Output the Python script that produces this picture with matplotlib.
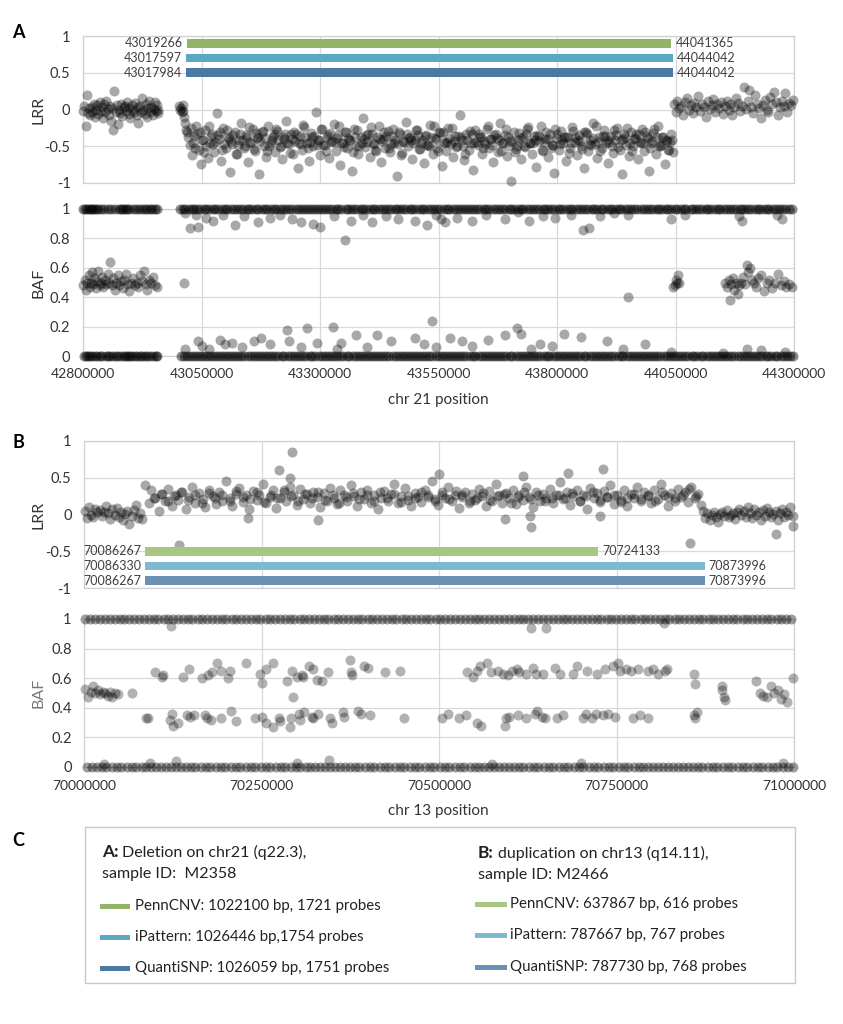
import numpy as np
import matplotlib
matplotlib.use('Agg')
import matplotlib.pyplot as plt
from matplotlib.patches import Rectangle

# ---------------- DATA (positions in kb) ----------------
# Panel A : chr21, LRR
lrr_a_seg1_kb = [42801,42803,42806,42808,42811,42813,42815,42818,42820,42823,
                 42825,42828,42830,42832,42835,42837,42840,42842,42845,42847,
                 42849,42852,42854,42857,42859,42862,42864,42866,42869,42871,
                 42874,42876,42879,42881,42883,42886,42888,42891,42893,42896,
                 42898,42900,42903,42905,42908,42910,42913,42915,42917,42920,
                 42922,42925,42927,42930,42932,42934,42937,42939,42942,42944,
                 42947,42949,42951,42954,42956,42958,42959]
lrr_a_seg1 = [-0.02,0.05,-0.22,0.20,-0.05,0.02,-0.08,0.04,-0.03,0.08,
              -0.10,0.00,0.06,-0.06,0.10,-0.02,0.03,-0.12,0.07,-0.04,
              0.12,0.01,-0.07,0.05,-0.15,0.02,-0.28,0.25,-0.03,0.06,
              -0.20,0.00,-0.05,0.08,-0.09,0.03,0.05,-0.02,0.10,-0.06,
              0.02,-0.12,0.06,0.00,-0.04,0.09,-0.08,0.03,-0.18,0.05,
              -0.03,0.15,0.00,-0.06,0.07,-0.10,0.02,0.12,-0.04,0.04,
              -0.08,0.01,0.10,-0.02,0.06,-0.05,0.00]
lrr_a_edge_kb = [43003,43005,43006,43008,43010,43011,43013,43015,43017]
lrr_a_edge = [0.05,0.00,0.02,-0.03,0.06,-0.02,-0.10,-0.18,-0.28]
lrr_a_del_kb = [43020,43025,43029,43034,43039,43044,43048,43053,43058,43063,
                43067,43072,43077,43082,43086,43091,43096,43101,43105,43110,
                43115,43120,43124,43129,43134,43139,43143,43148,43153,43158,
                43162,43167,43172,43177,43181,43186,43191,43196,43200,43205,
                43210,43215,43219,43224,43229,43234,43238,43243,43248,43253,
                43257,43262,43267,43272,43276,43281,43286,43291,43295,43300,
                43305,43310,43314,43319,43324,43329,43333,43338,43343,43348,
                43352,43357,43362,43367,43371,43376,43381,43386,43390,43395,
                43400,43405,43409,43414,43419,43424,43428,43433,43438,43443,
                43447,43452,43457,43462,43466,43471,43476,43481,43485,43490,
                43495,43500,43504,43509,43514,43519,43523,43528,43533,43538,
                43542,43547,43552,43557,43561,43566,43571,43576,43580,43585,
                43590,43595,43599,43604,43609,43614,43618,43623,43628,43633,
                43637,43642,43647,43652,43656,43661,43666,43671,43675,43680,
                43685,43690,43694,43699,43704,43709,43713,43718,43723,43728,
                43732,43737,43742,43747,43751,43756,43761,43766,43770,43775,
                43780,43785,43789,43794,43799,43804,43808,43813,43818,43823,
                43827,43832,43837,43842,43846,43851,43856,43861,43865,43870,
                43875,43880,43884,43889,43894,43899,43903,43908,43913,43918,
                43922,43927,43932,43937,43941,43946,43951,43956,43960,43965,
                43970,43975,43979,43984,43989,43994,43998,44003,44008,44013,
                44017,44022,44027,44032,44036,44041,44044]
lrr_a_del = [-0.30,-0.48,-0.62,-0.36,-0.22,-0.55,-0.74,-0.41,-0.28,-0.66,
             -0.45,-0.33,-0.58,-0.05,-0.40,-0.70,-0.25,-0.52,-0.38,-0.85,
             -0.47,-0.30,-0.60,-0.42,-0.18,-0.53,-0.35,-0.72,-0.44,-0.27,
             -0.56,-0.39,-0.88,-0.31,-0.49,-0.64,-0.22,-0.45,-0.37,-0.58,
             -0.29,-0.51,-0.68,-0.40,-0.15,-0.47,-0.33,-0.61,-0.43,-0.80,
             -0.36,-0.55,-0.24,-0.46,-0.70,-0.32,-0.50,-0.03,-0.41,-0.62,
             -0.27,-0.48,-0.38,-0.66,-0.44,-0.20,-0.57,-0.35,-0.75,-0.46,
             -0.31,-0.53,-0.42,-0.84,-0.26,-0.49,-0.60,-0.38,-0.12,-0.51,
             -0.44,-0.65,-0.33,-0.47,-0.56,-0.23,-0.71,-0.40,-0.52,-0.29,
             -0.58,-0.36,-0.45,-0.90,-0.31,-0.62,-0.43,-0.17,-0.50,-0.38,
             -0.67,-0.41,-0.28,-0.54,-0.46,-0.73,-0.35,-0.48,-0.21,-0.60,
             -0.39,-0.52,-0.30,-0.77,-0.44,-0.57,-0.25,-0.47,-0.64,-0.36,
             -0.50,-0.08,-0.42,-0.69,-0.33,-0.55,-0.45,-0.82,-0.28,-0.48,
             -0.37,-0.61,-0.43,-0.26,-0.53,-0.40,-0.72,-0.34,-0.58,-0.19,
             -0.46,-0.35,-0.63,-0.49,-0.97,-0.30,-0.54,-0.42,-0.67,-0.38,
             -0.51,-0.27,-0.45,-0.60,-0.36,-0.78,-0.43,-0.22,-0.56,-0.40,
             -0.64,-0.33,-0.48,-0.86,-0.39,-0.55,-0.29,-0.46,-0.70,-0.37,
             -0.52,-0.24,-0.44,-0.62,-0.35,-0.49,-0.80,-0.31,-0.57,-0.42,
             -0.18,-0.47,-0.66,-0.38,-0.53,-0.28,-0.45,-0.73,-0.36,-0.59,
             -0.41,-0.25,-0.55,-0.88,-0.34,-0.48,-0.63,-0.30,-0.50,-0.39,
             -0.68,-0.44,-0.27,-0.57,-0.36,-0.84,-0.46,-0.32,-0.60,-0.22,
             -0.49,-0.38,-0.74,-0.43,-0.55,-0.33,-0.58]
lrr_a_core_kb = [43022,43032,43041,43051,43060,43070,43079,43089,43098,43108,
                 43117,43127,43136,43146,43155,43165,43174,43184,43193,43203,
                 43212,43222,43231,43241,43250,43260,43269,43279,43288,43298,
                 43307,43317,43326,43336,43345,43355,43364,43374,43383,43393,
                 43402,43412,43421,43431,43440,43450,43459,43469,43478,43488,
                 43497,43507,43516,43526,43535,43545,43554,43564,43573,43583,
                 43592,43602,43611,43621,43630,43640,43649,43659,43668,43678,
                 43687,43697,43706,43716,43725,43735,43744,43754,43763,43773,
                 43782,43792,43801,43811,43820,43830,43839,43849,43858,43868,
                 43877,43887,43896,43906,43915,43925,43934,43944,43953,43963,
                 43972,43982,43991,44001,44010,44020,44029,44039]
lrr_a_core = [-0.38,-0.45,-0.33,-0.42,-0.50,-0.36,-0.44,-0.31,-0.47,-0.40,
              -0.35,-0.48,-0.41,-0.37,-0.46,-0.32,-0.43,-0.39,-0.49,-0.34,
              -0.42,-0.37,-0.45,-0.40,-0.33,-0.47,-0.38,-0.44,-0.36,-0.41,
              -0.48,-0.35,-0.43,-0.39,-0.46,-0.31,-0.42,-0.37,-0.50,-0.40,
              -0.34,-0.45,-0.38,-0.43,-0.36,-0.47,-0.41,-0.33,-0.44,-0.39,
              -0.46,-0.35,-0.42,-0.48,-0.37,-0.40,-0.32,-0.45,-0.39,-0.43,
              -0.36,-0.49,-0.41,-0.34,-0.44,-0.38,-0.47,-0.40,-0.35,-0.42,
              -0.45,-0.37,-0.43,-0.50,-0.39,-0.33,-0.46,-0.41,-0.36,-0.44,
              -0.40,-0.48,-0.34,-0.42,-0.38,-0.45,-0.37,-0.43,-0.31,-0.47,
              -0.39,-0.44,-0.36,-0.41,-0.49,-0.35,-0.42,-0.38,-0.46,-0.40,
              -0.33,-0.45,-0.39,-0.43,-0.37,-0.48,-0.41,-0.44]
lrr_a_core2_kb = [43027,43036,43046,43055,43065,43074,43084,43093,43103,43112,
                  43122,43131,43141,43150,43160,43169,43179,43188,43198,43207,
                  43217,43226,43236,43245,43255,43264,43274,43283,43293,43302,
                  43312,43321,43331,43340,43350,43359,43369,43378,43388,43397,
                  43407,43416,43426,43435,43445,43454,43464,43473,43483,43492,
                  43502,43511,43521,43530,43540,43549,43559,43568,43578,43587,
                  43597,43606,43616,43625,43635,43644,43654,43663,43673,43682,
                  43692,43701,43711,43720,43730,43739,43749,43758,43768,43777,
                  43787,43796,43806,43815,43825,43834,43844,43853,43863,43872,
                  43882,43891,43901,43910,43920,43929,43939,43948,43958,43967,
                  43977,43986,43996,44005,44015,44024,44034,44043]
lrr_a_core2 = [-0.25,-0.52,-0.31,-0.58,-0.22,-0.47,-0.35,-0.55,-0.28,-0.43,
               -0.60,-0.33,-0.49,-0.24,-0.54,-0.38,-0.29,-0.57,-0.41,-0.26,
               -0.50,-0.34,-0.59,-0.30,-0.45,-0.21,-0.53,-0.37,-0.48,-0.27,
               -0.56,-0.32,-0.44,-0.23,-0.51,-0.39,-0.58,-0.28,-0.46,-0.35,
               -0.24,-0.55,-0.40,-0.30,-0.52,-0.26,-0.47,-0.59,-0.33,-0.42,
               -0.28,-0.54,-0.36,-0.49,-0.22,-0.57,-0.31,-0.44,-0.25,-0.51,
               -0.38,-0.60,-0.29,-0.46,-0.34,-0.53,-0.23,-0.48,-0.39,-0.56,
               -0.27,-0.43,-0.58,-0.32,-0.50,-0.24,-0.45,-0.35,-0.55,-0.30,
               -0.52,-0.26,-0.47,-0.37,-0.59,-0.29,-0.42,-0.54,-0.33,-0.48,
               -0.23,-0.56,-0.36,-0.44,-0.28,-0.51,-0.40,-0.25,-0.57,-0.34,
               -0.46,-0.31,-0.53,-0.27,-0.49,-0.38,-0.55,-0.42]
lrr_a_seg3_kb = [44046,44050,44054,44058,44062,44066,44070,44074,44078,44082,
                 44086,44090,44094,44098,44102,44106,44110,44114,44118,44122,
                 44126,44130,44134,44138,44142,44146,44150,44154,44158,44162,
                 44166,44170,44174,44178,44182,44186,44190,44194,44198,44202,
                 44206,44210,44214,44218,44222,44226,44230,44234,44238,44242,
                 44246,44250,44254,44258,44262,44266,44270,44274,44278,44282,
                 44286,44290,44294,44298]
lrr_a_seg3 = [0.08,-0.03,0.12,0.02,0.05,-0.08,0.10,0.15,0.00,0.06,
              -0.05,0.09,0.03,0.18,-0.02,0.07,0.04,-0.10,0.11,0.01,
              0.06,0.14,-0.04,0.08,0.02,0.10,-0.06,0.05,0.12,0.00,
              0.07,-0.08,0.03,0.16,0.09,-0.02,0.05,0.30,0.01,0.11,
              0.27,0.04,-0.05,0.20,0.08,0.02,-0.12,0.06,0.13,0.00,
              -0.03,0.17,0.07,0.24,0.10,-0.07,0.03,0.12,0.05,0.22,
              -0.04,0.09,0.06,0.13]

# Panel A : chr21, BAF
baf_a_top_kb = [42801,42805,42809,42812,42816,42820,42823,42827,42831,42838,
                42845,42852,42860,42868,42876,42880,42884,42888,42892,42897,
                42905,42912,42918,42924,42930,42936,42941,42946,42951,42956,
                43004,43010,43015,43023,43029,43034,43041,43047,43055,43060,
                43066,43074,43079,43085,43093,43099,43104,43112,43118,43125,
                43131,43137,43146,43151,43157,43164,43170,43178,43183,43189,
                43197,43203,43208,43216,43222,43229,43235,43241,43250,43255,
                43261,43268,43274,43282,43287,43293,43301,43307,43312,43320,
                43326,43333,43339,43345,43354,43359,43365,43372,43378,43386,
                43391,43397,43405,43411,43416,43424,43430,43437,43443,43449,
                43458,43463,43469,43476,43482,43490,43495,43501,43509,43515,
                43520,43528,43534,43541,43547,43553,43562,43567,43573,43580,
                43586,43594,43599,43605,43613,43619,43624,43632,43638,43645,
                43651,43657,43666,43671,43677,43684,43690,43698,43703,43709,
                43717,43723,43728,43736,43742,43749,43755,43761,43770,43775,
                43781,43788,43794,43802,43807,43813,43821,43827,43832,43840,
                43846,43853,43859,43865,43874,43879,43885,43892,43898,43906,
                43911,43917,43925,43931,43936,43944,43950,43957,43963,43969,
                43978,43983,43989,43996,44002,44010,44015,44021,44029,44035,
                44040,44048,44054,44061,44067,44073,44082,44087,44093,44100,
                44106,44114,44119,44125,44133,44139,44144,44152,44158,44165,
                44171,44177,44186,44191,44197,44204,44210,44218,44223,44229,
                44237,44243,44248,44256,44262,44269,44275,44281,44290,44296]
baf_a_bot_kb = [42802,42807,42811,42815,42820,42826,42830,42836,42841,42848,
                42853,42858,42864,42869,42874,42880,42886,42890,42895,42899,
                42904,42910,42914,42920,42925,42931,42936,42942,42948,42953,
                42957,
                43007,43013,43020,43026,43032,43039,43044,43051,43057,43063,
                43070,43076,43082,43089,43095,43101,43108,43114,43121,43127,
                43134,43140,43148,43154,43160,43167,43173,43180,43186,43193,
                43199,43206,43212,43219,43225,43232,43238,43245,43252,43258,
                43265,43271,43278,43284,43290,43297,43304,43310,43317,43323,
                43330,43336,43343,43349,43356,43362,43369,43375,43382,43388,
                43394,43401,43408,43414,43420,43427,43433,43440,43446,43453,
                43460,43466,43473,43479,43486,43492,43498,43505,43512,43518,
                43524,43531,43537,43544,43550,43557,43564,43570,43576,43583,
                43589,43596,43602,43609,43616,43622,43628,43635,43641,43648,
                43654,43661,43668,43674,43680,43687,43693,43700,43706,43713,
                43720,43726,43732,43739,43745,43752,43758,43765,43772,43778,
                43784,43791,43797,43804,43810,43817,43824,43830,43836,43843,
                43849,43856,43862,43869,43876,43882,43888,43895,43901,43908,
                43914,43921,43928,43934,43940,43947,43953,43960,43966,43973,
                43980,43986,43992,43999,44005,44012,44018,44025,44032,44038,
                44044,44051,44057,44064,44070,44077,44084,44090,44096,44103,
                44109,44116,44122,44129,44136,44142,44148,44155,44161,44168,
                44174,44181,44188,44194,44200,44207,44213,44220,44226,44233,
                44240,44246,44252,44259,44265,44272,44278,44285,44292,44298]
baf_a_mid_kb = [42801,42804,42807,42809,42812,42814,42817,42819,42822,42824,
                42827,42829,42832,42835,42837,42840,42843,42846,42849,42852,
                42855,42858,42861,42864,42867,42870,42873,42876,42880,42884,
                42887,42891,42894,42898,42902,42905,42909,42913,42916,42920,
                42924,42928,42932,42936,42940,42944,42948,42952,42956,
                43013,43950,44048,44050,44053,44055,44058,44045,
                44155,44158,44162,44165,44168,44171,44174,44178,44181,44185,
                44188,44192,44196,44200,44204,44208,44212,44216,44220,44225,
                44230,44236,44242,44248,44254,44260,44266,44272,44278,44284,
                44290,44296]
baf_a_mid = [0.48,0.52,0.45,0.50,0.55,0.47,0.50,0.57,0.49,0.53,
             0.46,0.51,0.58,0.48,0.50,0.54,0.47,0.52,0.49,0.56,
             0.50,0.64,0.48,0.53,0.45,0.50,0.55,0.48,0.51,0.46,
             0.52,0.56,0.49,0.44,0.50,0.53,0.48,0.50,0.47,0.55,
             0.51,0.58,0.49,0.45,0.52,0.50,0.54,0.48,0.47,
             0.50,0.40,0.48,0.52,0.50,0.55,0.50,0.47,
             0.50,0.47,0.52,0.38,0.49,0.53,0.45,0.50,0.42,0.48,
             0.50,0.54,0.49,0.62,0.57,0.60,0.52,0.50,0.47,0.53,
             0.55,0.44,0.50,0.52,0.46,0.50,0.56,0.48,0.51,0.47,
             0.49,0.47]
baf_a_near1_kb = [43015,43025,43038,43042,43060,43075,43095,43120,43140,43170,
                  43195,43215,43240,43260,43285,43300,43330,43352,43365,43390,
                  43410,43440,43465,43500,43525,43545,43555,43563,43590,43620,
                  43650,43690,43718,43740,43770,43795,43830,43855,43867,43890,
                  43920,43950,44040,44070,44185,44190,44265,44275]
baf_a_near1 = [0.97,0.87,0.96,0.88,0.94,0.92,0.96,0.89,0.95,0.91,
               0.94,0.96,0.93,0.91,0.90,0.88,0.95,0.79,0.92,0.96,
               0.91,0.95,0.93,0.92,0.89,0.96,0.93,0.91,0.94,0.92,
               0.96,0.93,0.98,0.92,0.95,0.94,0.96,0.86,0.87,0.95,
               0.97,0.96,0.93,0.96,0.95,0.92,0.96,0.93]
baf_a_near0_kb = [43015,43042,43050,43065,43090,43100,43115,43135,43160,43175,
                  43195,43230,43235,43260,43273,43293,43327,43335,43345,43375,
                  43400,43420,43450,43537,43500,43520,43545,43575,43600,43620,
                  43655,43690,43715,43725,43745,43765,43790,43815,43850,43905,
                  43940,43986,44040,44150,44200,44230,44280]
baf_a_near0 = [0.05,0.10,0.07,0.05,0.11,0.08,0.09,0.06,0.10,0.12,
               0.08,0.18,0.10,0.06,0.19,0.09,0.20,0.05,0.09,0.14,
               0.06,0.14,0.10,0.24,0.12,0.08,0.06,0.12,0.10,0.07,
               0.11,0.14,0.19,0.15,0.05,0.08,0.07,0.15,0.13,0.10,
               0.05,0.08,0.03,0.02,0.05,0.04,0.03]

# Panel A CNV calls
calls_a_start = [43019266, 43017597, 43017984]
calls_a_end = [44041365, 44044042, 44044042]

# Panel B : chr13, LRR
lrr_b_seg1_kb = [70001,70004,70007,70010,70013,70016,70019,70022,70025,70028,
                 70031,70034,70037,70040,70043,70046,70049,70052,70055,70058,
                 70061,70064,70067,70070,70073,70076,70079,70082]
lrr_b_seg1 = [0.05,-0.05,0.10,0.00,-0.03,0.08,0.03,0.06,-0.02,0.04,
              0.12,0.02,-0.06,0.07,0.00,0.09,-0.04,0.03,-0.08,0.01,
              0.05,-0.13,-0.02,0.06,0.13,-0.05,0.02,-0.06]
lrr_b_dup_kb = [70086,70091,70095,70100,70105,70110,70114,70119,70124,70129,
                70133,70138,70143,70148,70152,70157,70162,70167,70171,70176,
                70181,70186,70190,70195,70200,70205,70209,70214,70219,70224,
                70228,70233,70238,70243,70247,70252,70257,70262,70266,70271,
                70276,70281,70285,70290,70295,70300,70304,70309,70314,70319,
                70323,70328,70333,70338,70342,70347,70352,70357,70361,70366,
                70371,70376,70380,70385,70390,70395,70399,70404,70409,70414,
                70418,70423,70428,70433,70437,70442,70447,70452,70456,70461,
                70466,70471,70475,70480,70485,70490,70494,70499,70504,70509,
                70513,70518,70523,70528,70532,70537,70542,70547,70551,70556,
                70561,70566,70570,70575,70580,70585,70589,70594,70599,70604,
                70608,70613,70618,70623,70627,70632,70637,70642,70646,70651,
                70656,70661,70665,70670,70675,70680,70684,70689,70694,70699,
                70703,70708,70713,70718,70722,70727,70732,70737,70741,70746,
                70751,70756,70760,70765,70770,70775,70779,70784,70789,70794,
                70798,70803,70808,70813,70817,70822,70827,70832,70836,70841,
                70846,70851,70855,70860,70865,70869]
lrr_b_dup = [0.40,0.15,0.33,0.22,0.05,0.28,0.18,0.35,0.12,0.26,
             0.20,0.31,0.08,0.24,0.38,0.16,0.29,0.21,0.10,0.34,
             0.25,0.14,0.30,0.19,0.45,0.23,0.11,0.28,0.36,0.17,
             0.26,0.07,0.32,0.20,0.27,0.42,0.15,0.24,0.33,0.09,
             0.22,0.30,0.18,0.38,0.26,0.13,0.35,0.21,0.28,0.16,
             0.31,0.24,0.10,0.29,0.19,0.36,0.23,0.14,0.33,0.27,
             0.18,0.40,0.25,0.12,0.30,0.21,0.34,0.16,0.27,0.08,
             0.23,0.32,0.19,0.28,0.42,0.15,0.25,0.36,0.20,0.11,
             0.29,0.24,0.17,0.33,0.26,0.46,0.21,0.13,0.30,0.22,
             0.37,0.18,0.27,0.09,0.24,0.31,0.15,0.28,0.20,0.35,
             0.25,0.12,0.32,0.19,0.41,0.26,0.16,0.29,0.22,0.34,
             0.14,0.27,0.20,0.38,0.24,0.10,0.31,0.18,0.28,0.23,
             0.35,0.16,0.26,0.44,0.21,0.30,0.13,0.25,0.33,0.19,
             0.27,0.08,0.36,0.22,0.29,0.17,0.32,0.24,0.40,0.14,
             0.26,0.20,0.34,0.11,0.28,0.23,0.37,0.18,0.30,0.25,
             0.15,0.33,0.21,0.42,0.27,0.12,0.29,0.19,0.35,0.24,
             0.31,0.17,0.38,0.22,0.28,0.13]
lrr_b_core_kb = [70098,70108,70118,70127,70137,70147,70156,70166,70176,70185,
                 70195,70205,70214,70224,70234,70243,70253,70263,70272,70282,
                 70292,70301,70311,70321,70330,70340,70350,70359,70369,70379,
                 70388,70398,70408,70417,70427,70437,70446,70456,70466,70475,
                 70485,70495,70504,70514,70524,70533,70543,70553,70562,70572,
                 70582,70591,70601,70611,70620,70630,70640,70649,70659,70669,
                 70678,70688,70698,70707,70717,70727,70736,70746,70756,70765,
                 70775,70785,70794,70804,70814,70823,70833,70843,70852,70862]
lrr_b_core = [0.22,0.28,0.18,0.25,0.31,0.20,0.26,0.16,0.29,0.23,
              0.27,0.19,0.32,0.24,0.21,0.30,0.17,0.26,0.22,0.33,
              0.25,0.18,0.28,0.23,0.30,0.20,0.27,0.15,0.24,0.29,
              0.21,0.26,0.19,0.31,0.23,0.28,0.17,0.25,0.22,0.30,
              0.24,0.19,0.27,0.21,0.32,0.26,0.18,0.23,0.29,0.20,
              0.25,0.28,0.16,0.24,0.30,0.21,0.27,0.19,0.23,0.26,
              0.22,0.29,0.18,0.25,0.31,0.20,0.24,0.27,0.17,0.23,
              0.28,0.21,0.26,0.19,0.30,0.24,0.22,0.27,0.35,0.25]
lrr_b_out_kb = [70134,70231,70275,70290,70293,70330,70500,70593,70618,70628,
                70630,70682,70727,70731,70853,70975,70998]
lrr_b_out = [-0.42,-0.05,0.60,0.50,0.85,-0.07,0.55,-0.06,0.52,-0.02,
             -0.17,0.56,-0.02,0.62,-0.39,-0.27,-0.16]
lrr_b_seg3_kb = [70872,70875,70878,70881,70884,70887,70890,70893,70896,70899,
                 70902,70905,70908,70911,70914,70917,70920,70923,70926,70929,
                 70932,70935,70938,70941,70944,70947,70950,70953,70956,70959,
                 70962,70965,70968,70971,70974,70977,70980,70983,70986,70989,
                 70992,70995,70998]
lrr_b_seg3 = [0.05,-0.05,0.02,-0.08,0.00,0.04,-0.03,-0.10,0.01,0.03,
              -0.02,0.06,-0.04,0.00,0.02,-0.06,0.03,0.08,-0.01,0.05,
              -0.03,0.10,0.02,-0.05,0.07,0.00,0.04,-0.08,0.06,-0.02,
              0.09,0.03,-0.04,0.01,0.05,-0.07,0.02,0.08,-0.03,0.04,
              0.00,0.10,-0.02]

# Panel B : chr13, BAF
baf_b_top_kb = [70002,70009,70015,70022,70030,70036,70043,70050,70056,70064,
                70071,70077,70084,70091,70098,70104,70112,70118,70125,70132,
                70139,70146,70152,70160,70166,70173,70180,70187,70194,70200,
                70208,70214,70221,70228,70235,70242,70248,70256,70262,70269,
                70276,70283,70290,70296,70304,70310,70317,70324,70331,70338,
                70344,70352,70358,70365,70372,70379,70386,70392,70400,70406,
                70413,70420,70427,70434,70440,70448,70454,70461,70468,70475,
                70482,70488,70496,70502,70509,70516,70523,70530,70536,70544,
                70550,70557,70564,70571,70578,70584,70592,70598,70605,70612,
                70619,70626,70632,70640,70646,70653,70660,70667,70674,70680,
                70688,70694,70701,70708,70715,70722,70728,70736,70742,70749,
                70756,70763,70770,70776,70784,70790,70797,70804,70811,70818,
                70824,70832,70838,70845,70852,70859,70866,70872,70880,70886,
                70893,70900,70907,70914,70920,70928,70934,70941,70948,70955,
                70962,70968,70976,70982,70989,70996]
baf_b_bot_kb = [70004,70011,70019,70025,70031,70039,70046,70052,70060,70067,
                70073,70081,70088,70094,70102,70109,70115,70123,70130,70136,
                70144,70151,70157,70165,70172,70178,70186,70193,70199,70207,
                70214,70220,70228,70235,70241,70249,70256,70262,70270,70277,
                70283,70291,70298,70304,70312,70319,70325,70333,70340,70346,
                70354,70361,70367,70375,70382,70388,70396,70403,70409,70417,
                70424,70430,70438,70445,70451,70459,70466,70472,70480,70487,
                70493,70501,70508,70514,70522,70529,70535,70543,70550,70556,
                70564,70571,70577,70585,70592,70598,70606,70613,70619,70627,
                70634,70640,70648,70655,70661,70669,70676,70682,70690,70697,
                70703,70711,70718,70724,70732,70739,70745,70753,70760,70766,
                70774,70781,70787,70795,70802,70808,70816,70823,70829,70837,
                70844,70850,70858,70865,70871,70879,70886,70892,70900,70907,
                70913,70921,70928,70934,70942,70949,70955,70963,70970,70976,
                70984,70991,70998]
baf_b_mid_kb = [70002,70006,70010,70013,70016,70020,70023,70027,70030,70034,
                70037,70040,70044,70048,70068,
                70088,70090,70121,70124,70125,70133,70145,70149,70155,70170,
                70173,70179,70193,70207,70214,70241,70250,70257,70266,70274,
                70276,70290,70291,70294,70303,70304,70310,70321,70322,70330,
                70346,70349,70365,70366,70386,70390,70403,70450,
                70100,70110,70111,70140,70148,70166,70174,70180,70187,70193,
                70203,70206,70228,70248,70250,70257,70266,70286,70293,70300,
                70307,70309,70317,70323,70328,70335,70344,70374,70376,70378,
                70395,70400,70424,70445,
                70504,70513,70528,70538,70553,70559,70593,70595,70599,70611,
                70623,70635,70638,70645,70649,70666,70674,70703,70707,70715,
                70721,70731,70738,70748,70773,70783,70794,70859,70860,70863,
                70539,70548,70553,70558,70567,70573,70583,70590,70597,70603,
                70610,70613,70623,70632,70637,70646,70663,70670,70689,70694,
                70708,70722,70734,70745,70752,70755,70763,70770,70780,70794,
                70801,70808,70818,70821,70859,
                70860,70898,70899,70901,70903,70947,70952,70957,70962,70967,
                70972,70977,70982,70986,70990,70998]
baf_b_mid = [0.53,0.47,0.51,0.55,0.50,0.52,0.49,0.51,0.50,0.48,
             0.51,0.47,0.50,0.49,0.50,
             0.33,0.33,0.32,0.36,0.28,0.30,0.35,0.34,0.35,0.35,
             0.33,0.32,0.33,0.38,0.31,0.33,0.34,0.30,0.27,0.33,
             0.31,0.27,0.33,0.47,0.36,0.32,0.37,0.34,0.33,0.36,
             0.33,0.30,0.37,0.34,0.38,0.36,0.35,0.33,
             0.64,0.61,0.62,0.61,0.66,0.60,0.62,0.64,0.70,0.65,
             0.60,0.65,0.70,0.63,0.57,0.66,0.70,0.58,0.65,0.61,
             0.62,0.61,0.68,0.66,0.59,0.58,0.64,0.72,0.64,0.62,
             0.68,0.67,0.64,0.65,
             0.33,0.36,0.33,0.35,0.30,0.28,0.28,0.33,0.34,0.35,
             0.33,0.36,0.38,0.34,0.33,0.33,0.35,0.33,0.36,0.33,
             0.36,0.35,0.36,0.34,0.33,0.35,0.33,0.35,0.33,0.37,
             0.64,0.61,0.65,0.68,0.70,0.64,0.65,0.63,0.62,0.65,
             0.66,0.64,0.63,0.67,0.63,0.63,0.67,0.63,0.63,0.68,
             0.65,0.63,0.66,0.68,0.70,0.65,0.66,0.65,0.66,0.65,
             0.66,0.63,0.65,0.66,0.63,
             0.56,0.55,0.52,0.47,0.45,0.58,0.50,0.48,0.47,0.55,
             0.50,0.52,0.46,0.49,0.44,0.60]
baf_b_off_kb = [70122,70630,70650,70817,70028,70093,70130,70300,70345,70575,70700,70985]
baf_b_off = [0.95,0.94,0.94,0.97,0.02,0.03,0.04,0.03,0.05,0.02,0.03,0.03]

# Panel B CNV calls
calls_b_start = [70086267, 70086330, 70086267]
calls_b_end = [70724133, 70873996, 70873996]

# Panel C legend text
methods = ['PennCNV', 'iPattern', 'QuantiSNP']
legend_a = ['PennCNV: 1022100 bp, 1721 probes', 'iPattern: 1026446 bp,1754 probes',
            'QuantiSNP: 1026059 bp, 1751 probes']
legend_b = ['PennCNV: 637867 bp, 616 probes', 'iPattern: 787667 bp, 767 probes',
            'QuantiSNP: 787730 bp, 768 probes']

# Axis ticks
xticks_a = [42800000, 43050000, 43300000, 43550000, 43800000, 44050000, 44300000]
xticks_b = [70000000, 70250000, 70500000, 70750000, 71000000]
lrr_ticks = [-1, -0.5, 0, 0.5, 1]
lrr_ticklabels = ['-1', '-0.5', '0', '0.5', '1']
baf_ticks = [0, 0.2, 0.4, 0.6, 0.8, 1]
baf_ticklabels = ['0', '0.2', '0.4', '0.6', '0.8', '1']

# ---------------- STYLE ----------------
colors_a = ['#93b466', '#5aa9c0', '#4a7aa2']
colors_b = ['#a6c681', '#7dbad0', '#6a91b3']

W, H = 843, 1024
plt.rcParams['font.family'] = ['Lato', 'DejaVu Sans']
fig = plt.figure(figsize=(W / 100, H / 100), dpi=100)
TXT = '#404040'


def rect(l, t, r, b):
    return [l / W, 1 - b / H, (r - l) / W, (b - t) / H]


def style(ax, xlim, xticks, ylim, yticks, ylabels, show_x):
    ax.set_xlim(xlim)
    ax.set_ylim(ylim)
    ax.set_xticks(xticks)
    ax.set_yticks(yticks)
    ax.set_yticklabels(ylabels)
    if show_x:
        ax.set_xticklabels([str(t) for t in xticks])
    else:
        ax.set_xticklabels([])
    ax.grid(True, color='#d9d9d9', lw=0.9)
    ax.set_axisbelow(True)
    for s in ax.spines.values():
        s.set_color('#d0d0d0')
        s.set_linewidth(0.9)
    ax.tick_params(length=0, labelsize=10.5, colors='#333333')
    ax.tick_params(axis='y', pad=9)
    ax.tick_params(axis='x', pad=9, labelsize=10)


def dots(ax, xs_kb, ys, alpha=0.34):
    ax.scatter(np.asarray(xs_kb) * 1000.0, ys, s=52, c='black', alpha=alpha,
               linewidths=0, clip_on=False, zorder=3)


def calls(ax, starts, ends, rows, colors):
    starts = np.asarray(starts)
    ends = np.asarray(ends)
    ax.barh(rows, ends - starts, left=starts, height=0.12, color=colors, zorder=4)
    for s, e, r in zip(starts, ends, rows):
        ax.annotate(str(s), (s, r), xytext=(-3, 0), textcoords='offset points',
                    ha='right', va='center', fontsize=9, color=TXT, zorder=5)
        ax.annotate(str(e), (e, r), xytext=(3, 0), textcoords='offset points',
                    ha='left', va='center', fontsize=9, color=TXT, zorder=5)


# ---- Panel A ----
ax1 = fig.add_axes(rect(83, 36, 794, 183))
style(ax1, (42800000, 44300000), xticks_a, (-1, 1), lrr_ticks, lrr_ticklabels, False)
for xs, ys in [(lrr_a_seg1_kb, lrr_a_seg1), (lrr_a_edge_kb, lrr_a_edge),
               (lrr_a_del_kb, lrr_a_del), (lrr_a_core_kb, lrr_a_core),
               (lrr_a_core2_kb, lrr_a_core2), (lrr_a_seg3_kb, lrr_a_seg3)]:
    dots(ax1, xs, ys)
calls(ax1, calls_a_start, calls_a_end, [0.9, 0.7, 0.5], colors_a)

ax2 = fig.add_axes(rect(83, 209, 794, 356))
style(ax2, (42800000, 44300000), xticks_a, (0, 1), baf_ticks, baf_ticklabels, True)
dots(ax2, baf_a_top_kb, [1.0] * len(baf_a_top_kb), alpha=0.45)
dots(ax2, baf_a_bot_kb, [0.0] * len(baf_a_bot_kb), alpha=0.45)
dots(ax2, baf_a_mid_kb, baf_a_mid)
dots(ax2, baf_a_near1_kb, baf_a_near1)
dots(ax2, baf_a_near0_kb, baf_a_near0)

# ---- Panel B ----
ax3 = fig.add_axes(rect(84, 441, 794, 588))
style(ax3, (70000000, 71000000), xticks_b, (-1, 1), lrr_ticks, lrr_ticklabels, False)
for xs, ys in [(lrr_b_seg1_kb, lrr_b_seg1), (lrr_b_dup_kb, lrr_b_dup),
               (lrr_b_core_kb, lrr_b_core), (lrr_b_out_kb, lrr_b_out),
               (lrr_b_seg3_kb, lrr_b_seg3)]:
    dots(ax3, xs, ys)
calls(ax3, calls_b_start, calls_b_end, [-0.5, -0.7, -0.9], colors_b)

ax4 = fig.add_axes(rect(84, 619, 794, 767))
style(ax4, (70000000, 71000000), xticks_b, (0, 1), baf_ticks, baf_ticklabels, True)
dots(ax4, baf_b_top_kb, [1.0] * len(baf_b_top_kb), alpha=0.38)
dots(ax4, baf_b_bot_kb, [0.0] * len(baf_b_bot_kb), alpha=0.38)
dots(ax4, baf_b_mid_kb, baf_b_mid, alpha=0.3)
dots(ax4, baf_b_off_kb, baf_b_off, alpha=0.3)


def ftext(x, y, s, **kw):
    return fig.text(x / W, 1 - y / H, s, **kw)


# axis titles
ftext(38, 110, 'LRR', rotation=90, ha='center', va='center', fontsize=11.5, color='#333333')
ftext(38, 283, 'BAF', rotation=90, ha='center', va='center', fontsize=11.5, color='#333333')
ftext(38, 515, 'LRR', rotation=90, ha='center', va='center', fontsize=11.5, color='#333333')
ftext(38, 693, 'BAF', rotation=90, ha='center', va='center', fontsize=11.5, color='#777777')
ftext(438, 400, 'chr 21 position', ha='center', va='center', fontsize=11, color='#333333')
ftext(438, 811, 'chr 13 position', ha='center', va='center', fontsize=11, color='#333333')

# panel letters
ftext(18, 32, 'A', ha='center', va='center', fontsize=13, fontweight='bold')
ftext(18, 442, 'B', ha='center', va='center', fontsize=13, fontweight='bold')
ftext(18, 840, 'C', ha='center', va='center', fontsize=13, fontweight='bold')

# ---- Panel C ----
fig.add_artist(Rectangle((85 / W, 1 - 983 / H), 710 / W, 156 / H, transform=fig.transFigure,
                         facecolor='white', edgecolor='#c8c8c8', lw=1.0))
renderer = fig.canvas.get_renderer()


def title(x, y, bold, rest, line2):
    t = ftext(x, y, bold, ha='left', va='center', fontsize=12.5, fontweight='bold', color='#222222')
    bb = t.get_window_extent(renderer)
    fig.text(bb.x1 / W + 4 / W, 1 - y / H, rest, ha='left', va='center', fontsize=11.5, color='#222222')
    ftext(x, y + 22, line2, ha='left', va='center', fontsize=11.5, color='#222222')


title(102, 852, 'A:', 'Deletion on chr21 (q22.3),', 'sample ID:  M2358')
title(478, 853, 'B:', 'duplication on chr13 (q14.11),', 'sample ID: M2466')

for i, (la, lb) in enumerate(zip(legend_a, legend_b)):
    ya = [906, 937, 968][i]
    yb = [904, 935, 967][i]
    fig.add_artist(Rectangle((100 / W, 1 - (ya + 2.5) / H), 30 / W, 5 / H,
                             transform=fig.transFigure, color=colors_a[i], lw=0))
    ftext(135, ya, la, ha='left', va='center', fontsize=10.8, color='#222222')
    fig.add_artist(Rectangle((475 / W, 1 - (yb + 2.5) / H), 32 / W, 5 / H,
                             transform=fig.transFigure, color=colors_b[i], lw=0))
    ftext(510, yb, lb, ha='left', va='center', fontsize=10.8, color='#222222')

fig.savefig('out.png', dpi=100, facecolor='white')
